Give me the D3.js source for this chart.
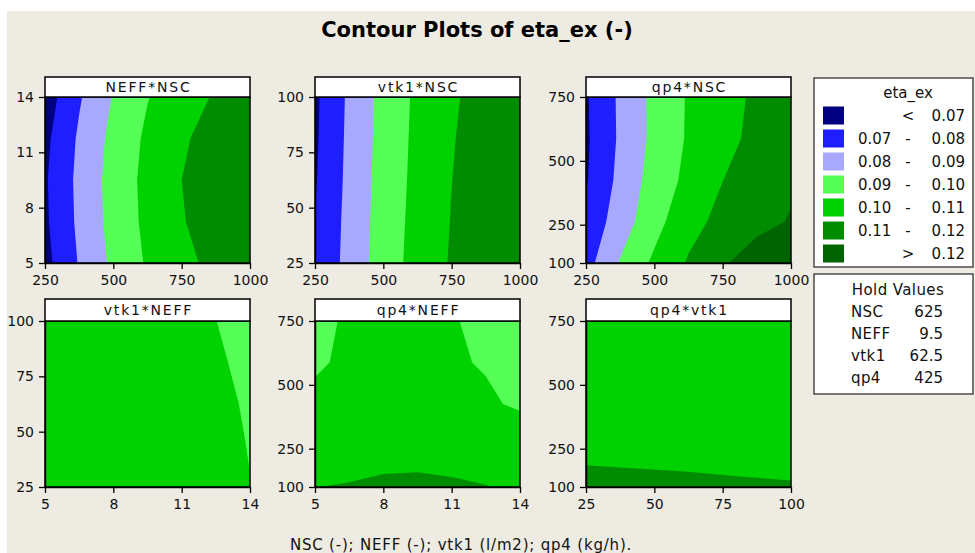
<!DOCTYPE html>
<html><head><meta charset="utf-8">
<script src="https://cdn.jsdelivr.net/npm/d3@7"></script>
<style>
body{margin:0;background:#fff;}
svg{display:block;font-family:"DejaVu Sans",Verdana,sans-serif;}
</style>
</head><body>
<svg id="chart" width="975" height="553"></svg>
<script>
// ---------------- DATA ----------------
const chartTitle = "Contour Plots of eta_ex (-)";
const axisNote = "NSC (-); NEFF (-); vtk1 (l/m2); qp4 (kg/h).";
const legendTitle = "eta_ex";
const thresholds = [0.07, 0.08, 0.09, 0.10, 0.11, 0.12];

const nscTicks = [250, 500, 750, 1000];
const neffTicks = [5, 8, 11, 14];
const vtk1Ticks = [25, 50, 75, 100];
const qp4Ticks = [100, 250, 500, 750];

const nscNodes = [250, 375, 500, 625, 750, 875, 1000];
const neffNodes5 = [5, 7.25, 9.5, 11.75, 14];
const neffNodes7 = [5, 6.5, 8, 9.5, 11, 12.5, 14];
const vtk1Nodes = [25, 43.75, 62.5, 81.25, 100];
const qp4Nodes = [100, 262.5, 425, 587.5, 750];

// rows = y nodes (low -> high), columns = x nodes
const etaNeffNsc = [
  [0.0670, 0.0807, 0.0921, 0.1011, 0.1074, 0.1126, 0.1160],
  [0.0684, 0.0820, 0.0934, 0.1023, 0.1094, 0.1144, 0.1179],
  [0.0689, 0.0824, 0.0938, 0.1027, 0.1100, 0.1150, 0.1185],
  [0.0677, 0.0814, 0.0928, 0.1018, 0.1087, 0.1138, 0.1173],
  [0.0649, 0.0790, 0.0906, 0.0996, 0.1056, 0.1110, 0.1145]
];
const etaVtk1Nsc = [
  [0.0707, 0.0835, 0.0948, 0.1037, 0.1109, 0.1163, 0.1195],
  [0.0702, 0.0830, 0.0944, 0.1032, 0.1104, 0.1157, 0.1190],
  [0.0692, 0.0825, 0.0939, 0.1027, 0.1099, 0.1151, 0.1185],
  [0.0686, 0.0821, 0.0935, 0.1023, 0.1094, 0.1145, 0.1180],
  [0.0682, 0.0817, 0.0931, 0.1019, 0.1087, 0.1139, 0.1175]
];
const etaQp4Nsc = [
  [0.0763, 0.0907, 0.1019, 0.1109, 0.1188, 0.1253, 0.1290],
  [0.0727, 0.0850, 0.0965, 0.1070, 0.1125, 0.1169, 0.1207],
  [0.0692, 0.0827, 0.0941, 0.1025, 0.1099, 0.1149, 0.1185],
  [0.0686, 0.0815, 0.0925, 0.1011, 0.1073, 0.1123, 0.1160],
  [0.0690, 0.0817, 0.0925, 0.1009, 0.1066, 0.1116, 0.1150]
];
const etaVtk1Neff = [
  [0.1020, 0.1032, 0.1036, 0.1030, 0.1001],
  [0.1015, 0.1027, 0.1031, 0.1024, 0.0998],
  [0.1011, 0.1023, 0.1027, 0.1018, 0.0995],
  [0.1007, 0.1019, 0.1023, 0.1012, 0.0991],
  [0.1003, 0.1015, 0.1019, 0.1007, 0.0987]
];
const etaQp4Neff = [
  [0.1099, 0.1106, 0.1119, 0.1123, 0.1114, 0.1103, 0.1085],
  [0.1045, 0.1053, 0.1058, 0.1058, 0.1056, 0.1050, 0.1040],
  [0.1011, 0.1020, 0.1026, 0.1027, 0.1022, 0.1008, 0.0992],
  [0.0994, 0.1008, 0.1015, 0.1016, 0.1006, 0.0996, 0.0985],
  [0.0990, 0.1005, 0.1012, 0.1013, 0.1003, 0.0990, 0.0978]
];
const etaQp4Vtk1 = [
  [0.1135, 0.1129, 0.1123, 0.1115, 0.1109],
  [0.1068, 0.1064, 0.1060, 0.1056, 0.1052],
  [0.1036, 0.1032, 0.1027, 0.1023, 0.1019],
  [0.1022, 0.1018, 0.1013, 0.1009, 0.1005],
  [0.1020, 0.1015, 0.1010, 0.1006, 0.1002]
];

const holdNames = ["NSC", "NEFF", "vtk1", "qp4"];
const holdValues = ["625", "9.5", "62.5", "425"];

// ---------------- STYLE / LAYOUT ----------------
const bandColors = ["#000080", "#1e1eff", "#a8a8ff", "#55ff55", "#00d200", "#008c00", "#006400"];
const svg = d3.select("#chart");
svg.append("rect").attr("x", 7).attr("y", 11).attr("width", 968).attr("height", 542).attr("fill", "#eeebe2");

const colX = [45, 315, 586];
const rowY = [97, 321];
const headerH = [20, 22];
const PW = 205, PH = 166;

const panels = [
  {title: "NEFF*NSC", xN: nscNodes, yN: neffNodes5, z: etaNeffNsc, xt: nscTicks, yt: neffTicks, c: 0, r: 0},
  {title: "vtk1*NSC", xN: nscNodes, yN: vtk1Nodes, z: etaVtk1Nsc, xt: nscTicks, yt: vtk1Ticks, c: 1, r: 0},
  {title: "qp4*NSC", xN: nscNodes, yN: qp4Nodes, z: etaQp4Nsc, xt: nscTicks, yt: qp4Ticks, c: 2, r: 0},
  {title: "vtk1*NEFF", xN: neffNodes5, yN: vtk1Nodes, z: etaVtk1Neff, xt: neffTicks, yt: vtk1Ticks, c: 0, r: 1},
  {title: "qp4*NEFF", xN: neffNodes7, yN: qp4Nodes, z: etaQp4Neff, xt: neffTicks, yt: qp4Ticks, c: 1, r: 1},
  {title: "qp4*vtk1", xN: vtk1Nodes, yN: qp4Nodes, z: etaQp4Vtk1, xt: vtk1Ticks, yt: qp4Ticks, c: 2, r: 1}
];

panels.forEach((p, k) => {
  const x0 = colX[p.c], y0 = rowY[p.r], HH = headerH[p.r];
  const n = p.xN.length, m = p.yN.length;
  const x = d3.scaleLinear().domain(d3.extent(p.xt)).range([x0, x0 + PW]);
  const y = d3.scaleLinear().domain(d3.extent(p.yt)).range([y0 + PH, y0]);
  const gx = d3.scaleLinear().domain([0.5, n - 0.5]).range([p.xN[0], p.xN[n - 1]]);
  const gy = d3.scaleLinear().domain([0.5, m - 0.5]).range([p.yN[0], p.yN[m - 1]]);
  const proj = d3.geoTransform({point(px, py) { this.stream.point(x(gx(px)), y(gy(py))); }});
  const path = d3.geoPath(proj);

  const clipId = "clip" + k;
  svg.append("clipPath").attr("id", clipId).append("rect")
    .attr("x", x0).attr("y", y0).attr("width", PW).attr("height", PH);
  const g = svg.append("g").attr("clip-path", `url(#${clipId})`);
  g.append("rect").attr("x", x0).attr("y", y0).attr("width", PW).attr("height", PH).attr("fill", bandColors[0]);
  const cs = d3.contours().size([n, m]).thresholds(thresholds)(p.z.flat());
  g.selectAll("path").data(cs).join("path")
    .attr("d", path)
    .attr("fill", (d, i) => bandColors[i + 1]);

  // frame
  svg.append("rect").attr("x", x0).attr("y", y0).attr("width", PW).attr("height", PH)
    .attr("fill", "none").attr("stroke", "#000").attr("stroke-width", 1.5);
  // header
  svg.append("rect").attr("x", x0).attr("y", y0 - HH).attr("width", PW).attr("height", HH)
    .attr("fill", "#fff").attr("stroke", "#000").attr("stroke-width", 1.5);
  svg.append("text").attr("x", x0 + PW / 2 + 1).attr("y", y0 - HH / 2 + 5)
    .attr("text-anchor", "middle").attr("font-size", 14).attr("letter-spacing", 1.8)
    .attr("fill", "#111").text(p.title);

  // axes
  const ax = svg.append("g").attr("transform", `translate(0,${y0 + PH})`)
    .call(d3.axisBottom(x).tickValues(p.xt).tickFormat(d3.format("d")).tickSize(6).tickPadding(6).tickSizeOuter(0));
  const ay = svg.append("g").attr("transform", `translate(${x0},0)`)
    .call(d3.axisLeft(y).tickValues(p.yt).tickFormat(d3.format("d")).tickSize(6).tickPadding(5).tickSizeOuter(0));
  [ax, ay].forEach(a => {
    a.select(".domain").attr("stroke", "#000").attr("stroke-width", 1.5);
    a.selectAll(".tick line").attr("stroke", "#000").attr("stroke-width", 1.3);
    a.selectAll(".tick text").attr("font-size", 14).attr("fill", "#111")
      .attr("font-family", '"DejaVu Sans",Verdana,sans-serif');
  });
});

// title & footer
svg.append("text").attr("x", 477).attr("y", 37).attr("text-anchor", "middle")
  .attr("font-size", 21).attr("font-weight", "bold").attr("fill", "#000").text(chartTitle);
svg.append("text").attr("x", 461).attr("y", 550).attr("text-anchor", "middle")
  .attr("font-size", 15).attr("letter-spacing", 0.8).attr("fill", "#111").text(axisNote);

// legend
const lg = svg.append("g");
lg.append("rect").attr("x", 814).attr("y", 78).attr("width", 159).attr("height", 189)
  .attr("fill", "#fff").attr("stroke", "#222").attr("stroke-width", 1.2);
lg.append("text").attr("x", 908).attr("y", 98).attr("text-anchor", "middle")
  .attr("font-size", 15).attr("fill", "#111").text(legendTitle);
const fmt = d3.format(".2f");
const nBands = thresholds.length + 1;
d3.range(nBands).forEach(i => {
  const cy = 115.5 + i * 23;
  lg.append("rect").attr("x", 823).attr("y", cy - 9).attr("width", 21).attr("height", 18)
    .attr("fill", bandColors[i]);
  const low = i === 0 ? "" : (i === nBands - 1 ? "" : fmt(thresholds[i - 1]));
  const sym = i === 0 ? "<" : (i === nBands - 1 ? ">" : "-");
  const high = i === nBands - 1 ? fmt(thresholds[i - 1]) : fmt(thresholds[i]);
  lg.append("text").attr("x", 858).attr("y", cy + 5.5).attr("font-size", 15).attr("fill", "#111").text(low);
  lg.append("text").attr("x", 908).attr("y", cy + 5.5).attr("text-anchor", "middle").attr("font-size", 15).attr("fill", "#111").text(sym);
  lg.append("text").attr("x", 965).attr("y", cy + 5.5).attr("text-anchor", "end").attr("font-size", 15).attr("fill", "#111").text(high);
});

// hold values
const hg = svg.append("g");
hg.append("rect").attr("x", 814).attr("y", 274).attr("width", 159).attr("height", 120)
  .attr("fill", "#fff").attr("stroke", "#222").attr("stroke-width", 1.2);
hg.append("text").attr("x", 898).attr("y", 295).attr("text-anchor", "middle")
  .attr("font-size", 15).attr("letter-spacing", 0.4).attr("fill", "#111").text("Hold Values");
holdNames.forEach((nm, i) => {
  const by = 317 + i * 22;
  hg.append("text").attr("x", 851).attr("y", by).attr("font-size", 15).attr("letter-spacing", 0.4).attr("fill", "#111").text(nm);
  hg.append("text").attr("x", 943).attr("y", by).attr("text-anchor", "end").attr("font-size", 15).attr("fill", "#111").text(holdValues[i]);
});
</script>
</body></html>
